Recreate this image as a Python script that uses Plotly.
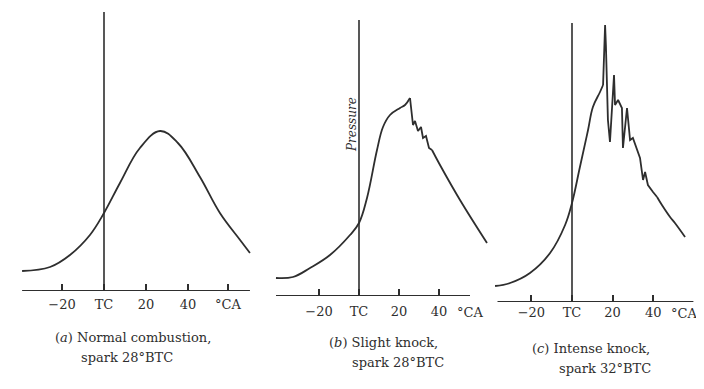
import plotly.graph_objects as go

OFF = 8                      # page body margin of the browser
W, H = 704 - OFF, 389 - OFF  # figure size so that it fits the window
INK = "#2e2e2e"
FONT = "DejaVu Serif"

# ---------------- data (crank angle in deg, pressure in relative units) ----------------
# (a) Normal combustion, spark 28 deg BTC
a_deg = [-39.0, -25.7, -16.2, -6.7, 0.0, 7.6, 17.1, 26.7, 35.2, 45.7, 55.2, 64.8, 69.5]
a_p = [20, 24, 36, 56, 78, 108, 143, 160, 148, 114, 78, 51, 38]

# (b) Slight knock, spark 28 deg BTC
b_deg = [-41.5, -33.0, -24.5, -14.5, -4.5, 0.0, 4.0, 9.0, 12.0, 15.5, 20.5, 23.0, 25.5,
         26.5, 27.0, 28.0, 29.5, 31.0, 32.0, 33.5, 35.0, 36.5, 40.5, 50.5, 64.0]
b_p = [18, 19, 28, 41, 61, 73, 98, 146, 169, 181, 188, 191, 198,
       178, 171, 175, 165, 169, 158, 160, 148, 146, 131, 96, 53]

# (c) Intense knock, spark 32 deg BTC
c_deg = [-37.9, -30.5, -20.7, -10.8, -3.4, 0.0, 3.9, 7.9, 10.3, 13.8, 15.3, 15.8, 16.3,
         16.7, 17.7, 18.7, 19.7, 20.7, 21.2, 22.7, 24.6, 25.1, 27.1, 28.6, 30.0, 32.0,
         33.5, 35.0, 36.0, 37.4, 38.4, 39.9, 41.9, 44.3, 48.3, 50.7, 55.7]
c_p = [16, 19, 29, 49, 77, 99, 135, 172, 195, 210, 217, 262, 277,
       257, 182, 160, 192, 227, 197, 202, 194, 154, 194, 162, 164, 152,
       144, 122, 130, 117, 114, 110, 105, 97, 85, 79, 65]

tick_vals = [-20, 0, 20, 40]
tick_text = ["\u221220", "TC", "20", "40"]
unit_label = "\u00b0CA"
a_unit_pos = 59
b_unit_pos = 55.5
c_unit_pos = 55.0

captions = [
    ["(<i>a</i>) Normal combustion,", "spark 28\u00b0BTC"],
    ["(<i>b</i>) Slight knock,", "spark 28\u00b0BTC"],
    ["(<i>c</i>) Intense knock,", "spark 32\u00b0BTC"],
]

# ---------------- panel geometry (window pixels) ----------------
# name: (tc_px, px_per_deg, baseline_px, domain_left_px, domain_right_px, label_standoff)
panels = {
    "a": (104, 2.1, 291, 10, 262, 4),
    "b": (359, 2.0, 296, 264, 492, 6),
    "c": (572, 2.03, 302, 494, 700, 1),
}
# segments: (start_idx, end_idx, smooth?)  -- smooth parts drawn as splines, knock parts as straight segments
segments = {
    "a": [(0, len(a_deg), True)],
    "b": [(0, 13, True), (12, 22, False), (21, len(b_deg), True)],
    "c": [(0, 11, True), (10, 33, False), (32, len(c_deg), True)],
}

fig = go.Figure()
series = {"a": (a_deg, a_p), "b": (b_deg, b_p), "c": (c_deg, c_p)}
axis_ids = {"a": ("x", "y"), "b": ("x2", "y2"), "c": ("x3", "y3")}

for k, (xs, ys) in series.items():
    xa, ya = axis_ids[k]
    for i0, i1, sm in segments[k]:
        line = dict(color=INK, width=1.8)
        if sm:
            line.update(shape="spline", smoothing=1.1)
        fig.add_trace(go.Scatter(x=xs[i0:i1], y=ys[i0:i1], mode="lines", line=line,
                                 xaxis=xa, yaxis=ya, hoverinfo="skip", showlegend=False))

layout = dict(width=W, height=H, margin=dict(l=0, r=0, t=0, b=0),
              paper_bgcolor="white", plot_bgcolor="white", showlegend=False)


def px(x):
    return x - OFF


for k, (tc, s, base, dl, dr, so) in panels.items():
    xa, ya = axis_ids[k]
    xkey = "xaxis" if xa == "x" else "xaxis" + xa[1:]
    ykey = "yaxis" if ya == "y" else "yaxis" + ya[1:]
    tv = list(tick_vals)
    tt = list(tick_text)
    if k == "a":
        tv.append(a_unit_pos)
        tt.append(unit_label)
    layout[xkey] = dict(domain=[px(dl) / W, px(dr) / W], range=[(dl - tc) / s, (dr - tc) / s],
                        anchor=ya, showgrid=False, zeroline=False, showline=False,
                        ticks="inside", ticklen=7, tickwidth=1.5, tickcolor=INK,
                        tickvals=tv, ticktext=tt, ticklabelstandoff=so,
                        tickfont=dict(family=FONT, size=13, color=INK))
    layout[ykey] = dict(domain=[1 - px(base) / H, 1], range=[0, base - OFF], visible=False,
                        anchor=xa)

fig.update_layout(**layout)

# baselines and TC lines
base_ext = {"a": (-39.0, 69.5), "b": (-41.5, 55.5), "c": (-36.7, 59.8)}
tc_top = {"a": 279, "b": 276, "c": 279}
for k in panels:
    xa, ya = axis_ids[k]
    x0, x1 = base_ext[k]
    fig.add_shape(type="line", xref=xa, yref=ya, x0=x0, x1=x1, y0=0, y1=0,
                  line=dict(color=INK, width=2))
    fig.add_shape(type="line", xref=xa, yref=ya, x0=0, x1=0, y0=0, y1=tc_top[k],
                  line=dict(color=INK, width=1.6))

# unit labels for b, c (placed beside the tick-label row)
for k, pos, row_y in (("b", b_unit_pos, 312), ("c", c_unit_pos, 313)):
    tc, s = panels[k][0], panels[k][1]
    fig.add_annotation(x=px(tc + s * pos) / W, y=1 - px(row_y) / H, xref="paper", yref="paper",
                       text=unit_label, showarrow=False, xanchor="center", yanchor="middle",
                       font=dict(family=FONT, size=13, color=INK))

# Pressure label
fig.add_annotation(x=px(352) / W, y=1 - px(125) / H, xref="paper", yref="paper",
                   text="<i>Pressure</i>", textangle=-90, showarrow=False,
                   xanchor="center", yanchor="middle",
                   font=dict(family=FONT, size=12, color=INK))

# captions
cap_pos = [((133, 337), (127, 357)), ((383, 342), (398, 362)), ((591, 348), (605, 368))]
for (l1, l2), ((x1, y1), (x2, y2)) in zip(captions, cap_pos):
    for t, (xx, yy) in ((l1, (x1, y1)), (l2, (x2, y2))):
        fig.add_annotation(x=px(xx) / W, y=1 - px(yy) / H, xref="paper", yref="paper", text=t,
                           showarrow=False, xanchor="center", yanchor="middle",
                           font=dict(family=FONT, size=13, color=INK))

fig.write_html("out.html")
